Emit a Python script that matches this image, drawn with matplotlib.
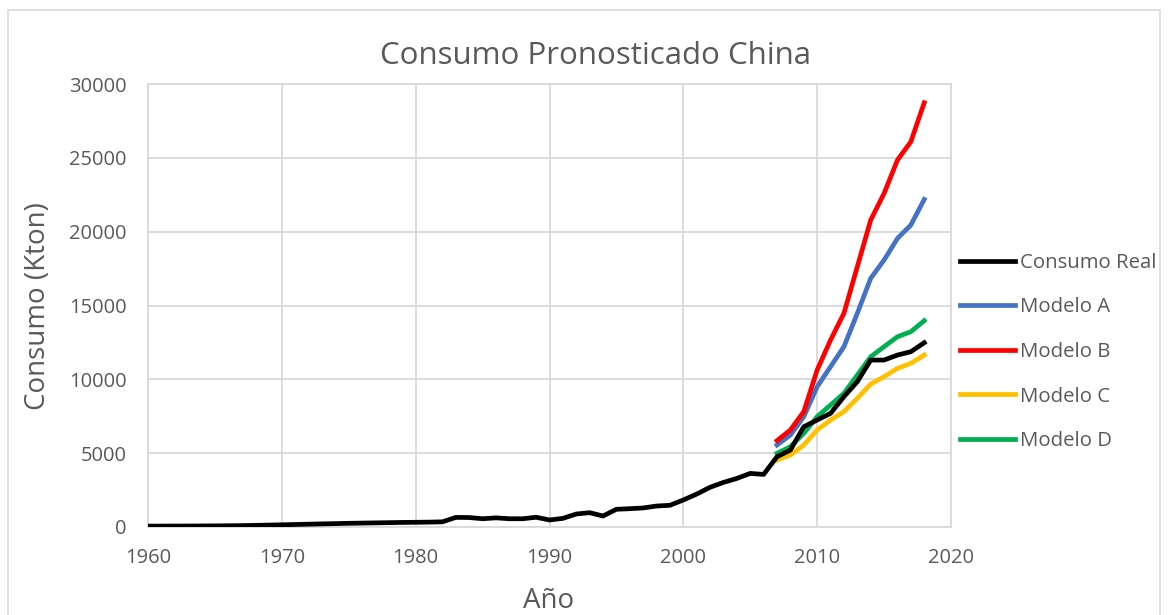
import matplotlib
matplotlib.use("Agg")
import matplotlib.pyplot as plt
from matplotlib.patches import Rectangle

years_real = list(range(1960, 2019))
consumo_real = [60, 62, 65, 68, 72, 76, 85, 95, 110, 130, 150, 170, 190, 210, 230, 250, 265, 280, 295, 310,
                320, 330, 350, 650, 640, 560, 620, 560, 560, 660, 475, 585, 880, 970, 745, 1200,
                1240, 1290, 1420, 1470, 1830, 2230, 2690, 3020, 3290, 3630, 3560, 4760, 5210, 6790,
                7245, 7695, 8825, 9840, 11305, 11305, 11645, 11870, 12480]

years_model = list(range(2007, 2019))
modelo_a = [5550, 6230, 7470, 9500, 10855, 12210, 14470, 16840, 18080, 19545, 20450, 22185]
modelo_b = [5845, 6570, 7810, 10630, 12660, 14470, 17625, 20785, 22590, 24850, 26090, 28730]
modelo_c = [4535, 4875, 5550, 6570, 7245, 7810, 8710, 9680, 10180, 10745, 11080, 11645]
modelo_d = [4990, 5440, 6340, 7470, 8260, 9050, 10290, 11530, 12210, 12885, 13225, 13970]

x_ticks = [1960, 1970, 1980, 1990, 2000, 2010, 2020]
y_ticks = [0, 5000, 10000, 15000, 20000, 25000, 30000]

plt.rcParams['font.family'] = ['Open Sans', 'DejaVu Sans']
txt = '#595959'
grid = '#d9d9d9'
W, H = 1170, 615

fig = plt.figure(figsize=(11.7, 6.15), dpi=100)
ax = fig.add_axes([148/W, 1 - 527/H, 803/W, 443/H])

lw = 3.4
ax.plot(years_real, consumo_real, color='black', lw=lw, label='Consumo Real', zorder=5)
ax.plot(years_model, modelo_a, color='#4472c4', lw=lw, label='Modelo A', zorder=3)
ax.plot(years_model, modelo_b, color='#ff0000', lw=lw, label='Modelo B', zorder=3)
ax.plot(years_model, modelo_c, color='#ffc000', lw=lw, label='Modelo C', zorder=3)
ax.plot(years_model, modelo_d, color='#00b050', lw=lw, label='Modelo D', zorder=4)

ax.set_xlim(1960, 2020)
ax.set_ylim(0, 30000)
ax.set_xticks(x_ticks)
ax.set_yticks(y_ticks)
ax.grid(True, color=grid, lw=1.3)
ax.set_axisbelow(True)
for s in ax.spines.values():
    s.set_color(grid)
    s.set_linewidth(1.3)
ax.tick_params(axis='y', length=0, labelsize=14.5, colors=txt, pad=15.5)
ax.tick_params(axis='x', length=0, labelsize=14.5, colors=txt, pad=15)

fig.text(596/W, 1 - 63.5/H, 'Consumo Pronosticado China', fontsize=22.5, color=txt,
         ha='center', va='baseline')
fig.text(549/W, 1 - 608/H, 'Año', fontsize=20, color=txt, ha='center', va='baseline')
fig.text(38/W, 1 - 306/H, 'Consumo (Kton)', fontsize=20, color=txt, ha='center', va='center',
         rotation=90)

fig.legend(loc='upper left', bbox_to_anchor=(960/W, 1 - 253/H), frameon=False,
           fontsize=14.7, labelcolor=txt, handlelength=2.7, labelspacing=1.2,
           handletextpad=0.25, borderpad=0, borderaxespad=0)

fig.patches.append(Rectangle((8/W, -0.1), 1152/W, 1.1 - 10/H, transform=fig.transFigure,
                             fill=False, edgecolor=grid, lw=1.2))

fig.savefig('out.png', dpi=100)
